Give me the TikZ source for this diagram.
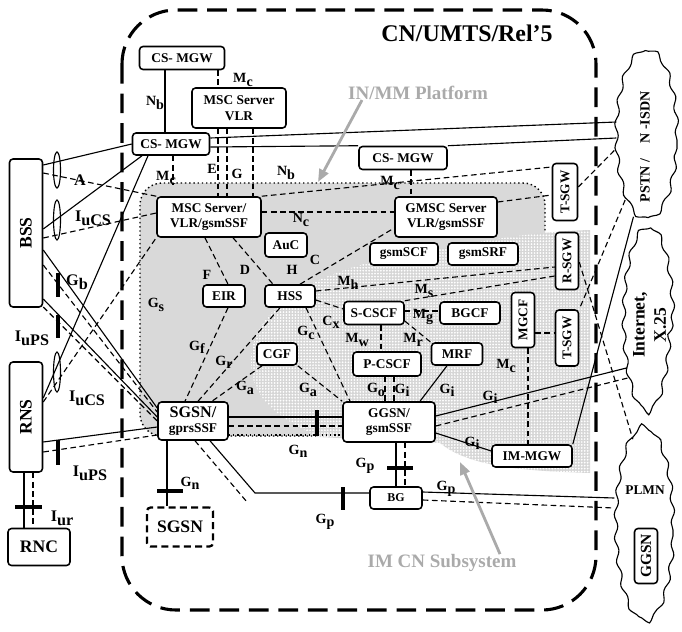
\documentclass[tikz,border=0pt]{standalone}
\usepackage{fontspec}
\setmainfont{Liberation Serif}
\usetikzlibrary{shapes.geometric,decorations.pathmorphing,patterns,arrows.meta,calc}
\newcommand{\itf}[2]{#1\raisebox{-0.5ex}{#2}}
\pgfdeclarepatternformonly{stipple}{\pgfqpoint{-1pt}{-1pt}}{\pgfqpoint{1pt}{1pt}}{\pgfqpoint{2.1pt}{2.1pt}}{%
  \pgfpathcircle{\pgfqpoint{0pt}{0pt}}{0.7pt}\pgfusepath{fill}}

\begin{document}
\begin{tikzpicture}[x=0.025cm, y=-0.025cm,
  every node/.style={font=\bfseries},
  sz/.style 2 args={minimum width=#1*0.025cm, minimum height=#2*0.025cm},
  box/.style={draw, line width=1.1pt, rounded corners=2.5pt, fill=white, inner sep=0pt, align=center, font=\fontsize{9.5}{11}\selectfont\bfseries},
  big/.style={box, font=\fontsize{12.5}{14}\selectfont\bfseries},
  net/.style={draw, ellipse, inner sep=0pt, line width=0.8pt, decorate, decoration={snake, segment length=17pt, amplitude=1.3pt}},
  lbl/.style={inner sep=0pt, font=\fontsize{10}{10}\selectfont\bfseries},
  lbig/.style={inner sep=0pt, font=\fontsize{11.5}{12}\selectfont\bfseries},
  usr/.style={line width=0.8pt},
  sig/.style={line width=0.8pt, dash pattern=on 4pt off 2.5pt},
  bar/.style={line width=2.2pt},
  hint/.style={gray!67, line width=2pt, -{Triangle[length=9pt,width=7pt]}},
]
\useasboundingbox (0,0) rectangle (682,631);

% IN/MM platform and IM CN subsystem areas
\filldraw[fill=gray!30, draw=black, dotted, line width=1pt, rounded corners=0.55cm] (140,183) rectangle (545,436);
\path[fill=gray!32, postaction={pattern=stipple, pattern color=white}]
  (318,437) .. controls (280,418) and (250,400) .. (251,360)
  .. controls (252,305) and (320,270) .. (400,256)
  .. controls (470,244) and (520,232) .. (590,230) -- (590,473)
  .. controls (530,471) and (470,468) .. (440,443) -- cycle;

% core network border
\draw[line width=2.2pt, dash pattern=on 14pt off 7pt, rounded corners=1.35cm] (122,10) rectangle (596,610);
\node[lbl, font=\fontsize{17}{18}\selectfont\bfseries] (title) at (467,33) {CN/UMTS/Rel’5};

% nodes
\node[box, sz={85}{23}] (cs1) at (182,58) {CS- MGW};
\node[box, sz={94}{40}] (mscv) at (239,108) {MSC Server\\VLR};
\node[box, sz={77}{22}] (cs2) at (171,144) {CS- MGW};
\node[box, sz={88}{23}] (cs3) at (403,158) {CS- MGW};
\node[box, sz={104}{40}] (msc) at (209,217) {MSC Server/\\VLR/gsmSSF};
\node[box, sz={102}{40}] (gmsc) at (446,217) {GMSC Server\\VLR/gsmSSF};
\node[box, sz={25}{57}] (tsgw1) at (565,192) {\rotatebox{90}{T-SGW}};
\node[box, sz={42}{24}] (auc) at (286,245) {AuC};
\node[box, sz={68}{22}] (gscf) at (404,254) {gsmSCF};
\node[box, sz={70}{22}] (gsrf) at (483,254) {gsmSRF};
\node[box, sz={23}{57}] (rsgw) at (567,261) {\rotatebox{90}{R-SGW}};
\node[box, sz={42}{22}] (eir) at (224,296) {EIR};
\node[box, sz={50}{22}] (hss) at (290,296) {HSS};
\node[box, sz={60}{23}] (scscf) at (374,313) {S-CSCF};
\node[box, sz={60}{22}] (bgcf) at (470,313) {BGCF};
\node[box, sz={23}{55}] (mgcf) at (523,320) {\rotatebox{90}{MGCF}};
\node[box, sz={23}{56}] (tsgw2) at (567,338) {\rotatebox{90}{T-SGW}};
\node[box, sz={40}{22}] (cgf) at (277,354) {CGF};
\node[box, sz={68}{24}] (pcscf) at (387,364) {P-CSCF};
\node[box, sz={51}{22}] (mrf) at (457,354) {MRF};
\node[box, sz={70}{38}] (sgsn) at (193,421) {{\fontsize{11.5}{12}\selectfont SGSN/}\\gprsSSF};
\node[box, sz={92}{40}] (ggsn) at (389,422) {GGSN/\\gsmSSF};
\node[box, sz={80}{22}] (imgw) at (532,456) {IM-MGW};
\node[box, sz={52}{22}, font=\fontsize{8.5}{9}\selectfont\bfseries] (bg) at (396,498) {BG};
\node[big, sz={66}{39}, dash pattern=on 5pt off 3pt, line width=1.6pt] (sgsn2) at (180,527) {SGSN};
\node[big, sz={33}{148}] (bss) at (26,233) {\rotatebox{90}{BSS}};
\node[big, sz={33}{110}] (rns) at (26,417) {\rotatebox{90}{RNS}};
\node[big, sz={62}{37}] (rnc) at (39,547) {RNC};

% external networks
\node[net, sz={60}{170}] (pstn) at (647,140) {};
\node[lbl, font=\fontsize{10}{11}\selectfont\bfseries] (pstnt) at (645,147) {\rotatebox{90}{PSTN /\hspace{1.1em}N -ISDN}};
\node[net, sz={48}{185}] (inet) at (649,325) {};
\node[lbl, font=\fontsize{12.5}{15}\selectfont\bfseries] (inett) at (651,325) {\rotatebox{90}{\begin{tabular}{@{}c@{}}Internet,\\X.25\end{tabular}}};
\node[net, sz={58}{195}] (plmn) at (644,530) {};
\node[lbl, font=\fontsize{9.5}{10}\selectfont\bfseries] (plmnt) at (645,490) {PLMN};
\node[box, sz={23}{55}, font=\fontsize{11}{12}\selectfont\bfseries] (ggsnp) at (646,556) {\rotatebox{90}{GGSN}};

% cs domain
\draw[usr] (cs1.south -| 165,0) -- (cs2.north -| 165,0);
\draw[sig] (cs1.south -| 218,0) -- (mscv.north -| 218,0);
\foreach \x in {218,227,253} {\draw[sig] (mscv.south -| \x,0) -- (msc.north -| \x,0);}
\coordinate (mcend) at (173,185);
\draw[sig] (cs2.south -| 173,0) -- (mcend);
\draw[usr] (cs2.east |- 0,138) -- (pstn.west |- 0,122);
\draw[usr] (cs2.east |- 0,147) -- (cs3.north west);
\draw[usr] (cs3.north east) -- (pstn.west |- 0,138);
\draw[sig] (cs3.south -| 411,0) -- (gmsc.north -| 411,0);
\draw[sig] (msc.north east) -- (tsgw1.west |- 0,167);
\draw[sig] (msc.east |- 0,212) -- (gmsc.west |- 0,212);
\draw[sig] (gmsc.east |- 0,202) -- (tsgw1.west |- 0,195);
\draw[sig] (tsgw1.east |- 0,187) -- (pstn.195);

% access network
\draw[usr] (bss.east |- 0,165) -- (cs2.west);
\draw[sig] (bss.east |- 0,173) -- (msc.north west);
\draw[usr] (bss.east |- 0,229) -- (cs2.south -| 142,0);
\draw[sig] (bss.east |- 0,238) -- (msc.west |- 0,213);
\draw[usr] (bss.east |- 0,250) -- (sgsn.west |- 0,408);
\draw[sig] (bss.east |- 0,265) -- (sgsn.west |- 0,412);
\draw[usr] (bss.east |- 0,299) -- (sgsn.west |- 0,417);
\draw[sig] (bss.east |- 0,307) -- (sgsn.west |- 0,421);
\draw[usr] (rns.east |- 0,398) -- (cs2.south -| 148,0);
\draw[sig] (rns.east |- 0,402) -- (msc.south west);
\draw[usr] (rns.east |- 0,442) -- (sgsn.west |- 0,427);
\draw[sig] (rns.east |- 0,452) -- (sgsn.west |- 0,435);
\draw[usr] (rns.south -| 24,0) -- (rnc.north -| 24,0);
\draw[sig] (rns.south -| 33,0) -- (rnc.north -| 33,0);
\foreach \y/\r in {170/18,220/20,372/20} {\draw[usr] (57,\y) ellipse [x radius=3.5, y radius=\r];}

% IN/MM platform
\draw[sig] (msc.south -| 205,0) -- (eir.north -| 228,0);
\draw[sig] (msc.south -| 233,0) -- (hss.north -| 273,0);
\draw[sig] (hss.north -| 300,0) -- (gmsc.west |- 0,228);

% IM CN subsystem
\draw[sig] (hss.east |- 0,300) -- (scscf.west |- 0,309);
\draw[sig] (hss.east |- 0,291) -- (rsgw.west |- 0,267);
\draw[sig] (scscf.north east) -- (rsgw.west |- 0,276);
\draw[sig] (scscf.east |- 0,311) -- (bgcf.west |- 0,311);
\draw[sig] (scscf.east |- 0,321) -- (mrf.north west);
\draw[sig] (scscf.south -| 381,0) -- (pcscf.north -| 381,0);
\foreach \x in {385,394} {\draw[sig] (pcscf.south -| \x,0) -- (ggsn.north -| \x,0);}
\draw[sig] (hss.south -| 306,0) -- (ggsn.north -| 350,0);
\draw[sig] (cgf.south east) -- (ggsn.north west);
\draw[sig] (mgcf.east |- 0,333) -- (tsgw2.west |- 0,333);
\draw[sig] (mgcf.south -| 528,0) -- (imgw.north -| 528,0);
\draw[sig] (pstn.250) -- (tsgw2.north east);
\draw[sig] (rsgw.east |- 0,262) -- (plmn.97);

% ps domain
\draw[sig] (eir.south -| 228,0) -- (sgsn.north -| 185,0);
\draw[sig] (hss.south -| 280,0) -- (sgsn.north -| 198,0);
\draw[sig] (cgf.south -| 262,0) -- (sgsn.north -| 212,0);
\draw[usr] (sgsn.east |- 0,417) -- (ggsn.west |- 0,417);
\draw[sig] (sgsn.east |- 0,426) -- (ggsn.west |- 0,426);
\draw[dotted, line width=1pt] (sgsn.east |- 0,435) -- (ggsn.west |- 0,435);
\draw[usr] (sgsn.south -| 167,0) -- (sgsn2.north -| 167,0);
\draw[usr] (sgsn.south -| 210,0) -- (255,493) -- (bg.west |- 0,493);
\coordinate (gpend) at (247,502);
\draw[sig] (sgsn.south -| 195,0) -- (gpend);
\draw[usr] (ggsn.north -| 420,0) -- (mrf.south -| 447,0);
\draw[usr] (ggsn.east |- 0,416) -- (inet.243);
\draw[sig] (ggsn.east |- 0,426) -- (inet.249);
\draw[usr] (ggsn.east |- 0,433) -- (imgw.west |- 0,451);
\draw[usr] (imgw.north east) -- (pstn.260);
\draw[usr] (ggsn.south -| 396,0) -- (bg.north -| 396,0);
\draw[sig] (ggsn.south -| 405,0) -- (bg.north -| 405,0);
\draw[usr] (bg.east |- 0,492) -- (plmn.west |- 0,498);
\draw[sig] (bg.east |- 0,500) -- (plmn.west |- 0,508);

% interface bars
\foreach \xa/\ya/\xb/\yb in {58/273/58/297, 58/315/58/338, 58/440/58/465, 15/507/42/507, 317/410/317/436, 157/491/183/491, 387/468/413/468, 343/487/343/510} {\draw[bar] (\xa,\ya) -- (\xb,\yb);}

% interface labels
\node[lbl] (lnb1) at (155,103) {\itf{N}{b}};
\node[lbl] (lmc1) at (243,80) {\itf{M}{c}};
\node[lbl] (le) at (212,169) {E};
\node[lbl] (lg) at (237,174) {G};
\node[lbl] (lmc2) at (166,178) {\itf{M}{c}};
\node[lbl] (lnb2) at (286,173) {\itf{N}{b}};
\node[lbl] (lnc) at (301,220) {\itf{N}{c}};
\node[lbl] (lmc3) at (390,183) {\itf{M}{c}};
\node[lbig] (la) at (80,180) {A};
\node[lbig] (liucs1) at (93,218) {\itf{I}{uCS}};
\node[lbig] (lgb) at (77,282) {\itf{G}{b}};
\node[lbig] (liups1) at (32,338) {\itf{I}{uPS}};
\node[lbig] (liucs2) at (87,398) {\itf{I}{uCS}};
\node[lbig] (liups2) at (90,473) {\itf{I}{uPS}};
\node[lbig] (liur) at (62,518) {\itf{I}{ur}};
\node[lbl] (lgs) at (156,305) {\itf{G}{s}};
\node[lbl] (lf) at (207,275) {F};
\node[lbl] (ld) at (245,270) {D};
\node[lbl] (lh) at (292,270) {H};
\node[lbl] (lc) at (315,260) {C};
\node[lbl] (lgf) at (197,347) {\itf{G}{f}};
\node[lbl] (lgr) at (224,362) {\itf{G}{r}};
\node[lbl] (lga1) at (245,388) {\itf{G}{a}};
\node[lbl] (lgc) at (306,333) {\itf{G}{c}};
\node[lbl] (lcx) at (331,322) {\itf{C}{x}};
\node[lbl] (lmh) at (348,283) {\itf{M}{h}};
\node[lbl] (lms) at (424,291) {\itf{M}{s}};
\node[lbl] (lmg) at (423,317) {\itf{M}{g}};
\node[lbl] (lmw) at (357,340) {\itf{M}{w}};
\node[lbl] (lmr) at (413,340) {\itf{M}{r}};
\node[lbl] (lga2) at (308,390) {\itf{G}{a}};
\node[lbl] (lgo) at (376,390) {\itf{G}{o}};
\node[lbl] (lgi1) at (402,390) {\itf{G}{i}};
\node[lbl] (lgi2) at (447,390) {\itf{G}{i}};
\node[lbl] (lgi3) at (490,397) {\itf{G}{i}};
\node[lbl] (lgi4) at (472,443) {\itf{G}{i}};
\node[lbl] (lmc4) at (506,366) {\itf{M}{c}};
\node[lbl] (lgn1) at (298,451) {\itf{G}{n}};
\node[lbl] (lgn2) at (190,483) {\itf{G}{n}};
\node[lbl] (lgp1) at (365,466) {\itf{G}{p}};
\node[lbl] (lgp2) at (446,489) {\itf{G}{p}};
\node[lbl] (lgp3) at (325,522) {\itf{G}{p}};

% area captions
\node[lbl, text=gray!67, font=\fontsize{13.5}{14}\selectfont\bfseries] (inmm) at (418,93) {IN/MM Platform};
\node[lbl, text=gray!67, font=\fontsize{13.5}{14}\selectfont\bfseries] (imcn) at (442,563) {IM CN Subsystem};
\coordinate (inmmtip) at (318,182);
\coordinate (imcntip) at (460,462);
\draw[hint] (inmm.south -| 362,0) -- (inmmtip);
\draw[hint] (imcn.north -| 500,0) -- (imcntip);

\end{tikzpicture}
\end{document}
